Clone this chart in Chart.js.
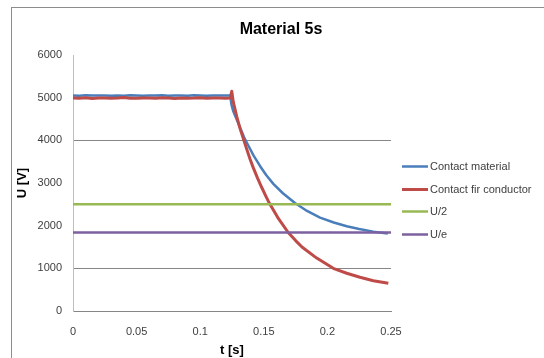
<!DOCTYPE html>
<html lang="en">
<head>
    <title>Material 5s</title>
    <script src="https://cdn.jsdelivr.net/npm/chart.js@4.4.0/dist/chart.umd.min.js"></script>
    <style>
    body {
        margin: 0;
        background-color: #fff;
        overflow: hidden;
    }

    .chart-container {
        position: relative;
        width: 544px;
        height: 358px;
    }
</style>
</head>
<body>
    <div class="chart-container">
        <canvas id="voltChart" width="544" height="358"></canvas>
    </div>

    <script>
        // Measured discharge, t in seconds, U in volts
        const tMaterial = [0, 0.005, 0.01, 0.015, 0.02, 0.025, 0.03, 0.035, 0.04, 0.045, 0.05, 0.055, 0.06,
            0.065, 0.07, 0.075, 0.08, 0.085, 0.09, 0.095, 0.1, 0.105, 0.11, 0.115, 0.12, 0.1236,
            0.1245, 0.126, 0.1287, 0.1313, 0.1345, 0.1378, 0.142, 0.147, 0.152, 0.1575, 0.165,
            0.1745, 0.184, 0.1942, 0.205, 0.2152, 0.225, 0.2361, 0.2475];
        const uMaterial = [5050, 5045, 5055, 5048, 5052, 5050, 5044, 5053, 5047, 5055, 5050, 5046, 5052,
            5048, 5054, 5045, 5050, 5053, 5047, 5055, 5050, 5046, 5052, 5050, 5048, 5050,
            4850, 4680, 4490, 4300, 4070, 3880, 3640, 3400, 3180, 2980, 2760,
            2530, 2345, 2190, 2075, 1985, 1920, 1860, 1815];

        const tConductor = [0, 0.005, 0.01, 0.015, 0.02, 0.025, 0.03, 0.035, 0.04, 0.045, 0.05, 0.055, 0.06,
            0.065, 0.07, 0.075, 0.08, 0.085, 0.09, 0.095, 0.1, 0.105, 0.11, 0.115, 0.12, 0.1236,
            0.1248, 0.126, 0.1287, 0.1313, 0.1339, 0.1365, 0.1391, 0.1417, 0.145, 0.1483, 0.1515,
            0.1543, 0.161, 0.1692, 0.175, 0.18, 0.1916, 0.2046, 0.2152, 0.2256, 0.2361, 0.2479];
        const uConductor = [4990, 4985, 4998, 4982, 4990, 4994, 4984, 4990, 5002, 4986, 4984, 4995, 4990,
            4986, 4998, 4990, 4983, 4994, 4986, 4990, 4998, 4986, 4990, 4994, 4986, 4990,
            5150, 4900, 4560, 4280, 4040, 3800, 3570, 3360, 3120, 2900, 2700,
            2530, 2190, 1840, 1650, 1500, 1240, 1000, 885, 790, 710, 650];

        // Reference levels U/2 and U/e for U = 5000 V
        const tLevel = [0, 0.25];
        const uHalf = [2500, 2500];
        const uE = [1839, 1839];

        const seriesLabels = ['Contact material', 'Contact fir conductor', 'U/2', 'U/e'];
        const yTicks = [0, 1000, 2000, 3000, 4000, 5000, 6000];
        const yGridShown = [1000, 4000];

        function toPoints(ts, us) {
            return ts.map((t, i) => ({ x: t, y: us[i] }));
        }

        // Frame, title and legend, drawn like the spreadsheet chart
        const decorPlugin = {
            id: 'decor',
            beforeDraw(chart) {
                const ctx = chart.ctx;
                ctx.save();
                ctx.fillStyle = '#fff';
                ctx.fillRect(0, 0, chart.width, chart.height);
                ctx.strokeStyle = '#8c8c8c';
                ctx.lineWidth = 1;
                ctx.strokeRect(11.5, 7.5, 700, 500);
                ctx.restore();
            },
            afterDraw(chart) {
                const ctx = chart.ctx;
                ctx.save();
                ctx.fillStyle = '#000';
                ctx.font = 'bold 16px "Liberation Sans"';
                ctx.textAlign = 'center';
                ctx.textBaseline = 'middle';
                ctx.fillText('Material 5s', 281, 30);

                ctx.font = '11px "Liberation Sans"';
                ctx.textAlign = 'left';
                chart.data.datasets.forEach((ds, i) => {
                    const y = Math.round(166 + i * 22.6) + 0.5;
                    ctx.strokeStyle = ds.borderColor;
                    ctx.lineWidth = i === 1 ? 3 : 2.5;
                    ctx.beginPath();
                    ctx.moveTo(402, y);
                    ctx.lineTo(428, y);
                    ctx.stroke();
                    ctx.fillStyle = '#404040';
                    ctx.fillText(ds.label, 430, y);
                });
                ctx.restore();
            }
        };

        const ctx = document.getElementById('voltChart').getContext('2d');
        const voltChart = new Chart(ctx, {
            type: 'line',
            data: {
                datasets: [{
                    label: seriesLabels[0],
                    data: toPoints(tMaterial, uMaterial),
                    borderColor: '#4a7ebb',
                    borderWidth: 2.5,
                    order: 4
                }, {
                    label: seriesLabels[1],
                    data: toPoints(tConductor, uConductor),
                    borderColor: '#be4b48',
                    borderWidth: 3,
                    order: 3
                }, {
                    label: seriesLabels[2],
                    data: toPoints(tLevel, uHalf),
                    borderColor: '#98b954',
                    borderWidth: 2.5,
                    order: 2
                }, {
                    label: seriesLabels[3],
                    data: toPoints(tLevel, uE),
                    borderColor: '#7d60a0',
                    borderWidth: 2.5,
                    order: 1
                }]
            },
            options: {
                responsive: false,
                animation: false,
                devicePixelRatio: 1,
                layout: {
                    padding: { left: 0, right: 153, top: 55, bottom: 0 }
                },
                elements: {
                    point: { radius: 0 },
                    line: { tension: 0, fill: false, borderJoinStyle: 'round' }
                },
                plugins: {
                    legend: { display: false },
                    title: { display: false },
                    tooltip: { enabled: false }
                },
                scales: {
                    x: {
                        type: 'linear',
                        min: 0,
                        max: 0.25,
                        afterFit(scale) { scale.height = 47; },
                        ticks: {
                            stepSize: 0.05,
                            padding: 14,
                            color: '#404040',
                            font: { family: 'Liberation Sans', size: 11 },
                            maxRotation: 0,
                            callback: (v) => String(Math.round(v * 100) / 100)
                        },
                        grid: { display: false, drawTicks: false },
                        border: { color: '#868686', width: 1 },
                        title: {
                            display: true,
                            text: 't [s]',
                            color: '#000',
                            font: { family: 'Liberation Sans', size: 13, weight: 'bold' },
                            padding: { top: 0, bottom: 0 }
                        }
                    },
                    y: {
                        min: 0,
                        max: 6000,
                        afterFit(scale) { scale.width = 73; },
                        afterBuildTicks(scale) {
                            scale.ticks = yTicks.map(v => ({ value: v }));
                        },
                        ticks: {
                            padding: 11,
                            color: '#404040',
                            font: { family: 'Liberation Sans', size: 11 },
                            callback: (v) => String(v)
                        },
                        grid: {
                            drawTicks: false,
                            color: (c) => yGridShown.includes(c.tick.value) ? '#868686' : 'rgba(0,0,0,0)'
                        },
                        border: { color: '#bfbfbf', width: 1 },
                        title: {
                            display: true,
                            text: 'U [V]',
                            color: '#000',
                            font: { family: 'Liberation Sans', size: 13, weight: 'bold' },
                            padding: { top: 15, bottom: 0 }
                        }
                    }
                }
            },
            plugins: [decorPlugin]
        });
    </script>
</body>
</html>
